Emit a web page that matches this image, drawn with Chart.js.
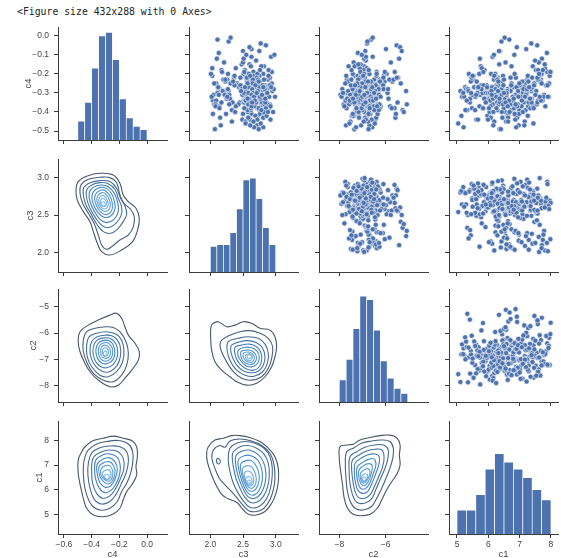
<!DOCTYPE html>
<html>
<head>
<meta charset="utf-8">
<script src="https://cdn.jsdelivr.net/npm/chart.js"></script>
<style>
  html, body { margin: 0; padding: 0; background: #fff; overflow: hidden; }
  body { width: 561px; height: 558px; position: relative; }
  #note { position: absolute; left: 17px; top: 6px; font: 9.8px/12px "DejaVu Sans Mono", monospace; color: #222; white-space: pre; }
  canvas { position: absolute; }
</style>
</head>
<body>
<div id="note">&lt;Figure size 432x288 with 0 Axes&gt;</div>
<script>
// Pair grid: histograms on the diagonal, scatter above, KDE contours below
const varNames = ['c4', 'c3', 'c2', 'c1'];

// observations, one value per row in each column
const c4 = [
  -0.31,-0.27,-0.44,-0.22,-0.36,-0.12,-0.29,-0.33,-0.25,-0.48,
  -0.34,-0.19,-0.28,-0.38,-0.23,-0.30,-0.41,-0.26,-0.05,-0.35,
  -0.32,-0.21,-0.39,-0.27,-0.45,-0.16,-0.30,-0.36,-0.24,-0.33,
  -0.29,-0.40,-0.23,-0.08,-0.34,-0.28,-0.37,-0.20,-0.42,-0.26,
  -0.31,-0.35,-0.18,-0.47,-0.25,-0.30,-0.38,-0.22,-0.14,-0.33,
  -0.27,-0.36,-0.29,-0.43,-0.21,-0.32,-0.24,-0.39,-0.02,-0.31,
  -0.26,-0.34,-0.41,-0.20,-0.29,-0.37,-0.11,-0.33,-0.25,-0.49,
  -0.30,-0.23,-0.35,-0.28,-0.40,-0.17,-0.32,-0.26,-0.38,-0.22,
  -0.34,-0.28,-0.44,-0.31,-0.19,-0.36,-0.24,-0.07,-0.33,-0.27,
  -0.39,-0.30,-0.21,-0.35,-0.46,-0.25,-0.32,-0.15,-0.37,-0.29,
  -0.26,-0.42,-0.31,-0.23,-0.34,-0.28,-0.10,-0.36,-0.30,-0.20,
  -0.33,-0.38,-0.27,-0.47,-0.24,-0.31,-0.18,-0.35,-0.29,-0.04,
  -0.32,-0.25,-0.40,-0.28,-0.36,-0.21,-0.30,-0.43,-0.26,-0.13,
  -0.34,-0.29,-0.37,-0.22,-0.31,-0.45,-0.27,-0.16,-0.33,-0.39,
  -0.24,-0.30,-0.35,-0.28,-0.09,-0.41,-0.32,-0.26,-0.36,-0.20,
  -0.33,-0.48,-0.27,-0.31,-0.23,-0.38,-0.29,-0.17,-0.35,-0.25,
  -0.30,-0.42,-0.28,-0.34,-0.21,-0.32,-0.26,-0.37,-0.06,-0.31,
  -0.35,-0.24,-0.39,-0.29,-0.20,-0.33,-0.44,-0.27,-0.14,-0.32,
  -0.28,-0.36,-0.30,-0.22,-0.40,-0.25,-0.34,-0.31,-0.18,-0.27,
  -0.38,-0.32,-0.12,-0.29,-0.46,-0.23,-0.35,-0.26,-0.30,-0.41,
  -0.27,-0.33,-0.21,-0.36,-0.29,-0.03,-0.31,-0.24,-0.43,-0.28,
  -0.34,-0.19,-0.37,-0.30,-0.26,-0.39,-0.22,-0.32,-0.11,-0.35,
  -0.28,-0.45,-0.31,-0.25,-0.38,-0.20,-0.33,-0.27,-0.36,-0.15,
  -0.30,-0.42,-0.29,-0.34,-0.23,-0.31,-0.37,-0.26,-0.08,-0.32,
  -0.40,-0.27,-0.35,-0.21,-0.30,-0.47,-0.28,-0.33,-0.18,-0.36,
  -0.25,-0.39,-0.31,-0.29,-0.22,-0.34,-0.44,-0.27,-0.01,-0.32,
  -0.37,-0.26,-0.30,-0.41,-0.24,-0.33,-0.28,-0.20,-0.35,-0.29,
  -0.32,-0.38,-0.16,-0.31,-0.27,-0.43,-0.34,-0.23,-0.30,-0.36,
  -0.25,-0.49,-0.29,-0.33,-0.21,-0.37,-0.28,-0.10,-0.32,-0.26,
  -0.35,-0.30,-0.40,-0.24,-0.33,-0.19,-0.31,-0.38,-0.27,-0.45
];
const c3 = [
  2.66,2.78,2.49,2.61,2.91,2.10,2.73,2.55,2.67,2.81,
  2.69,2.94,2.52,2.72,2.26,2.79,2.63,2.47,2.85,2.56,
  2.58,2.89,2.33,2.70,2.54,2.82,2.67,2.42,2.76,2.60,
  2.80,2.57,2.65,2.75,2.04,2.87,2.61,2.51,2.73,2.64,
  2.66,2.83,2.53,2.71,2.31,2.60,2.90,2.46,2.21,2.68,
  2.63,2.78,2.49,2.15,2.69,2.85,2.58,2.62,2.11,2.76,
  2.72,2.60,2.50,2.81,2.28,2.67,2.93,2.55,2.41,2.74,
  2.59,2.88,2.45,2.65,2.77,2.03,2.64,2.84,2.56,2.36,
  2.73,2.15,2.92,2.57,2.66,2.79,2.23,2.63,2.52,2.70,
  2.75,2.62,2.37,2.86,2.54,2.09,2.68,2.48,2.80,2.61,
  2.60,2.69,2.29,2.82,2.51,2.64,2.98,2.43,2.71,2.58,
  2.63,2.84,2.53,2.16,2.72,2.56,2.89,2.65,2.22,2.77,
  2.81,2.62,2.96,2.50,2.06,2.67,2.74,2.59,2.42,2.70,
  2.73,2.55,2.68,2.91,2.05,2.64,2.44,2.78,2.25,2.57,
  2.70,2.87,2.52,2.66,2.13,2.76,2.61,2.46,2.83,2.59,
  2.54,2.67,2.85,2.49,2.20,2.74,2.63,2.39,2.79,2.58,
  2.69,2.82,2.57,2.09,2.75,2.65,2.90,2.14,2.60,2.80,
  2.17,2.64,2.86,2.55,2.72,2.30,2.61,2.78,2.50,2.24,
  2.68,2.83,2.60,2.71,2.38,2.94,2.53,2.66,2.76,2.12,
  2.62,2.90,2.51,2.19,2.77,2.65,2.34,2.73,2.58,2.24,
  2.59,2.74,2.03,2.88,2.66,2.28,2.70,2.56,2.81,2.48,
  2.69,2.52,2.92,2.67,2.37,2.79,2.55,2.02,2.63,2.84,
  2.64,2.33,2.71,2.57,2.85,2.27,2.62,2.75,2.08,2.60,
  2.66,2.86,2.19,2.54,2.73,2.63,2.08,2.80,2.50,2.99,
  2.82,2.53,2.68,2.89,2.11,2.61,2.27,2.77,2.17,2.58,
  2.65,2.78,2.22,2.95,2.56,2.60,2.72,2.12,2.31,2.67,
  2.63,2.91,2.51,2.04,2.74,2.59,2.83,2.01,2.70,2.47,
  2.76,2.14,2.62,2.13,2.81,2.58,2.68,2.23,2.87,2.29,
  2.06,2.07,2.73,2.84,2.61,2.39,2.97,2.55,2.26,2.69,
  2.64,2.71,2.88,2.35,2.57,2.18,2.79,2.52,2.93,2.66
];
const c2 = [
  -6.82,-7.12,-6.45,-6.97,-7.63,-5.42,-6.74,-5.88,-7.27,-6.58,
  -7.05,-6.39,-7.41,-6.91,-6.12,-7.77,-6.66,-6.84,-5.53,-7.18,
  -6.49,-7.33,-5.27,-6.78,-7.52,-6.93,-6.31,-7.09,-5.71,-6.61,
  -7.86,-6.72,-6.27,-6.88,-7.23,-6.54,-6.99,-5.96,-7.46,-6.69,
  -7.14,-5.49,-6.81,-7.71,-6.47,-7.02,-5.62,-6.95,-7.38,-6.59,
  -6.16,-7.57,-6.76,-6.41,-7.21,-6.87,-6.05,-7.29,-6.63,-7.95,
  -6.71,-7.10,-6.35,-6.92,-7.44,-5.81,-6.56,-7.06,-5.35,-7.35,
  -6.64,-7.67,-6.98,-6.19,-7.25,-6.82,-6.43,-7.13,-5.74,-6.90,
  -7.48,-6.53,-6.85,-7.01,-5.61,-7.81,-6.68,-5.99,-7.19,-6.37,
  -6.95,-7.30,-6.08,-6.77,-7.56,-6.46,-6.86,-7.08,-6.22,-7.39,
  -6.60,-7.16,-6.83,-6.50,-7.73,-6.33,-7.00,-6.75,-5.92,-7.42,
  -6.89,-6.26,-7.22,-6.70,-7.61,-6.42,-6.96,-7.11,-5.12,-6.80,
  -7.31,-6.57,-6.92,-7.87,-6.38,-7.04,-6.66,-5.58,-7.26,-6.86,
  -6.52,-7.15,-6.79,-6.10,-7.50,-6.88,-6.45,-7.34,-6.72,-7.03,
  -6.28,-7.64,-6.94,-6.55,-7.20,-5.56,-6.84,-7.40,-6.62,-7.07,
  -6.91,-7.28,-6.32,-6.99,-5.84,-7.69,-6.48,-7.12,-6.73,-6.18,
  -7.36,-6.81,-6.57,-7.17,-6.40,-7.90,-6.64,-7.02,-5.38,-6.95,
  -7.45,-6.87,-6.30,-7.24,-6.70,-7.54,-6.61,-6.97,-5.78,-7.08,
  -6.44,-7.32,-6.78,-7.11,-5.22,-7.74,-6.53,-6.90,-7.47,-6.36,
  -7.05,-6.65,-6.93,-7.58,-6.47,-7.19,-6.83,-6.11,-7.27,-6.74,
  -7.37,-6.58,-6.97,-6.34,-7.62,-6.79,-7.13,-6.25,-6.89,-7.43,
  -6.68,-7.09,-6.51,-7.84,-6.43,-7.00,-5.47,-7.22,-6.85,-7.31,
  -6.09,-6.76,-7.53,-6.62,-7.04,-6.39,-7.66,-6.94,-6.27,-7.18,
  -6.80,-7.39,-6.55,-6.98,-5.66,-7.14,-6.71,-7.50,-5.31,-6.91,
  -7.25,-6.60,-6.84,-7.70,-6.42,-7.06,-6.31,-7.46,-6.73,-6.96,
  -7.02,-6.49,-7.29,-6.67,-5.52,-7.55,-6.86,-7.10,-6.56,-6.99,
  -6.37,-7.20,-6.82,-7.42,-6.64,-7.07,-5.90,-6.93,-7.35,-6.46,
  -7.01,-6.69,-7.60,-6.29,-6.88,-7.15,-6.54,-7.48,-6.80,-5.09,
  -7.23,-6.74,-7.12,-6.41,-6.97,-7.78,-6.63,-7.03,-6.22,-7.32,
  -6.87,-6.50,-7.17,-6.76,-7.41,-6.04,-6.92,-7.26,-6.58,-6.95
];
const c1 = [
  6.41,7.35,5.62,6.88,6.12,7.71,5.94,6.57,7.02,5.21,
  6.33,7.88,6.69,5.48,7.24,6.05,6.93,5.77,7.56,6.28,
  7.93,6.47,5.33,6.81,6.19,7.42,5.86,6.63,7.15,6.02,
  5.11,6.54,7.68,6.37,7.29,5.69,6.96,6.22,5.97,7.84,
  6.48,5.41,7.52,6.16,6.74,7.08,5.83,6.31,7.61,6.59,
  5.26,6.91,7.37,6.08,7.96,5.59,6.44,7.19,6.67,5.74,
  6.26,7.73,6.85,5.38,6.52,7.27,6.13,5.91,7.47,6.36,
  6.95,5.52,7.12,6.61,6.04,7.81,5.16,6.73,7.34,6.23,
  7.58,6.42,5.67,6.87,7.99,6.14,5.44,7.21,6.53,7.05,
  6.29,5.81,7.64,6.46,5.04,7.17,6.78,6.35,7.43,6.01,
  5.95,6.62,7.78,6.18,7.09,5.29,6.83,7.55,6.39,5.71,
  7.31,6.49,5.58,6.97,7.66,6.21,5.88,7.13,6.56,7.37,
  6.11,7.92,6.43,5.35,6.76,7.26,5.65,6.92,6.32,7.49,
  6.06,6.71,7.82,5.47,6.58,7.16,6.27,5.76,7.39,6.99,
  6.45,5.93,7.57,6.17,7.87,6.64,5.23,7.01,6.34,7.70,
  6.15,6.89,5.55,7.23,6.50,7.45,6.03,5.79,6.80,7.94,
  6.38,5.14,7.36,6.65,7.62,6.25,5.85,7.06,6.91,6.44,
  7.29,5.63,6.73,7.51,6.09,5.42,6.86,7.14,6.55,7.76,
  6.20,6.94,5.99,7.40,6.68,7.03,5.31,6.40,7.59,6.12,
  6.82,7.19,5.73,6.60,7.44,6.30,5.91,7.85,6.51,6.98,
  5.66,7.32,6.19,6.77,7.53,6.42,5.49,7.08,6.63,6.24,
  7.68,5.84,6.92,7.22,6.48,5.27,6.71,7.90,6.14,6.37,
  7.12,6.57,5.61,7.47,6.26,6.84,7.35,5.96,6.70,7.80,
  6.05,7.26,5.37,6.79,7.58,6.43,5.72,7.00,6.34,7.64,
  6.16,6.90,7.38,5.53,6.58,7.15,6.23,5.87,7.74,6.47,
  6.99,5.58,7.20,6.31,7.57,6.66,5.99,7.41,6.52,7.04,
  6.07,7.89,5.45,6.84,7.28,6.36,5.78,7.62,6.55,6.95,
  7.17,6.02,6.74,7.50,5.68,6.45,7.07,6.29,5.20,6.87,
  7.70,6.40,6.10,7.33,5.50,6.62,7.24,6.18,6.96,7.46,
  5.92,6.50,7.10,6.32,6.81,7.98,6.11,5.83,7.30,6.63
];

// histogram bins (edges) and counts on the diagonal
const c4Edges = [-0.5, -0.45, -0.4, -0.35, -0.3, -0.25, -0.2, -0.15, -0.1, -0.05, 0];
const c4Counts = [11, 22, 42, 61, 63, 47, 24, 13, 8, 6];
const c3Edges = [2.0, 2.1, 2.2, 2.3, 2.4, 2.5, 2.6, 2.7, 2.8, 2.9, 3.0];
const c3Counts = [15, 16, 16, 23, 37, 54, 55, 43, 26, 16];
const c2Edges = [-8, -7.705, -7.41, -7.115, -6.82, -6.525, -6.23, -5.935, -5.64, -5.345, -5.05];
const c2Counts = [13, 25, 43, 62, 60, 42, 24, 14, 8, 5];
const c1Edges = [5.0, 5.3, 5.6, 5.9, 6.2, 6.5, 6.8, 7.1, 7.4, 7.7, 8.0];
const c1Counts = [14, 14, 23, 38, 47, 42, 38, 33, 26, 20];

// axis limits when the variable is on x / on y, and tick values
const xLimits = [[-0.643, 0.144], [1.674, 3.341], [-8.875, -4.177], [4.745, 8.224]];
const yLimits = [[-0.547, 0.046], [1.744, 3.243], [-8.619, -4.328], [4.222, 8.778]];
const xTicks = [[-0.6, -0.4, -0.2, 0.0], [2.0, 2.5, 3.0], [-8, -6], [5, 6, 7, 8]];
const yTicks = [[-0.5, -0.4, -0.3, -0.2, -0.1, 0.0], [2.0, 2.5, 3.0], [-8, -7, -6, -5], [5, 6, 7, 8]];
const tickDecimals = [1, 1, 0, 0];

// KDE contour rings, outermost first, as flat x,y lists
const kdeC4C3 = [
  [-0.340,3.053, -0.432,3.018, -0.497,2.943, -0.513,2.832, -0.504,2.699, -0.460,2.545, -0.412,2.412, -0.388,2.280, -0.359,2.125, -0.328,2.014, -0.268,1.970, -0.184,2.036, -0.104,2.147, -0.068,2.302, -0.056,2.456, -0.080,2.589, -0.135,2.677, -0.172,2.766, -0.196,2.920, -0.244,3.031],
  [-0.340,3.000, -0.424,2.973, -0.477,2.898, -0.484,2.788, -0.465,2.655, -0.424,2.523, -0.383,2.390, -0.352,2.235, -0.328,2.103, -0.292,2.045, -0.249,2.089, -0.196,2.169, -0.135,2.235, -0.099,2.346, -0.092,2.478, -0.119,2.576, -0.167,2.655, -0.196,2.766, -0.220,2.929, -0.268,2.996],
  [-0.340,2.956, -0.412,2.929, -0.456,2.867, -0.460,2.766, -0.441,2.633, -0.400,2.501, -0.359,2.368, -0.316,2.280, -0.263,2.257, -0.215,2.310, -0.172,2.412, -0.147,2.514, -0.160,2.620, -0.191,2.722, -0.220,2.854, -0.268,2.943],
  [-0.340,2.929, -0.400,2.898, -0.436,2.832, -0.436,2.722, -0.412,2.589, -0.369,2.456, -0.321,2.355, -0.268,2.337, -0.220,2.399, -0.186,2.501, -0.184,2.611, -0.208,2.722, -0.232,2.841, -0.280,2.916],
  [-0.335,2.898, -0.388,2.867, -0.417,2.797, -0.412,2.677, -0.383,2.558, -0.340,2.443, -0.292,2.399, -0.239,2.443, -0.208,2.545, -0.212,2.664, -0.237,2.788, -0.280,2.876],
  [-0.333,2.867, -0.376,2.832, -0.398,2.757, -0.388,2.642, -0.354,2.531, -0.311,2.470, -0.263,2.487, -0.232,2.576, -0.237,2.691, -0.258,2.788, -0.292,2.850],
  [-0.328,2.832, -0.364,2.797, -0.379,2.722, -0.364,2.620, -0.330,2.531, -0.292,2.505, -0.256,2.558, -0.251,2.655, -0.268,2.752, -0.299,2.819],
  [-0.326,2.797, -0.354,2.761, -0.362,2.691, -0.345,2.602, -0.311,2.549, -0.277,2.567, -0.265,2.642, -0.280,2.735, -0.304,2.783],
  [-0.323,2.761, -0.345,2.726, -0.347,2.664, -0.328,2.598, -0.297,2.585, -0.280,2.642, -0.292,2.717, -0.309,2.752],
  [-0.321,2.722, -0.335,2.691, -0.333,2.638, -0.311,2.611, -0.292,2.642, -0.299,2.695],
  [-0.318,2.677, -0.328,2.655, -0.321,2.624, -0.304,2.629, -0.304,2.664]
];
const kdeC4C2 = [
  [-0.220,-5.25, -0.268,-5.32, -0.340,-5.48, -0.424,-5.70, -0.484,-5.95, -0.497,-6.33, -0.484,-6.71, -0.448,-7.15, -0.412,-7.47, -0.352,-7.79, -0.268,-8.04, -0.208,-7.98, -0.160,-7.72, -0.111,-7.41, -0.063,-7.03, -0.056,-6.71, -0.087,-6.39, -0.135,-6.08, -0.160,-5.76, -0.184,-5.44],
  [-0.292,-5.76, -0.376,-5.82, -0.436,-5.95, -0.460,-6.27, -0.460,-6.71, -0.432,-7.15, -0.388,-7.53, -0.316,-7.79, -0.244,-7.85, -0.184,-7.60, -0.147,-7.22, -0.135,-6.77, -0.152,-6.33, -0.196,-5.95, -0.244,-5.79],
  [-0.297,-5.95, -0.364,-6.01, -0.417,-6.14, -0.436,-6.46, -0.432,-6.90, -0.400,-7.28, -0.340,-7.60, -0.280,-7.66, -0.220,-7.47, -0.176,-7.09, -0.167,-6.65, -0.184,-6.27, -0.225,-6.04],
  [-0.297,-6.08, -0.359,-6.14, -0.398,-6.31, -0.412,-6.61, -0.403,-6.96, -0.369,-7.28, -0.316,-7.47, -0.263,-7.45, -0.215,-7.22, -0.191,-6.84, -0.196,-6.46, -0.225,-6.20, -0.256,-6.10],
  [-0.299,-6.18, -0.350,-6.24, -0.381,-6.42, -0.391,-6.71, -0.376,-7.03, -0.340,-7.26, -0.292,-7.32, -0.244,-7.19, -0.215,-6.90, -0.215,-6.56, -0.239,-6.31, -0.268,-6.20],
  [-0.299,-6.27, -0.340,-6.33, -0.364,-6.50, -0.369,-6.75, -0.354,-7.00, -0.323,-7.15, -0.280,-7.15, -0.244,-7.00, -0.232,-6.74, -0.244,-6.46, -0.268,-6.31],
  [-0.299,-6.36, -0.333,-6.42, -0.350,-6.58, -0.350,-6.80, -0.335,-6.98, -0.304,-7.07, -0.268,-7.00, -0.249,-6.81, -0.251,-6.58, -0.273,-6.41],
  [-0.302,-6.46, -0.328,-6.52, -0.335,-6.67, -0.330,-6.86, -0.306,-6.96, -0.275,-6.91, -0.263,-6.75, -0.273,-6.56],
  [-0.302,-6.56, -0.318,-6.61, -0.323,-6.75, -0.311,-6.86, -0.287,-6.85, -0.277,-6.72, -0.287,-6.60],
  [-0.304,-6.69, -0.316,-6.76, -0.306,-6.88, -0.290,-6.82, -0.292,-6.71]
];
const kdeC4C1 = [
  [-0.448,7.74, -0.388,7.99, -0.316,8.08, -0.244,8.17, -0.172,8.08, -0.111,7.99, -0.075,7.74, -0.070,7.34, -0.080,6.94, -0.075,6.60, -0.111,6.20, -0.147,5.93, -0.172,5.60, -0.196,5.26, -0.244,5.03, -0.316,4.92, -0.388,4.99, -0.436,5.26, -0.460,5.66, -0.480,6.13, -0.497,6.67, -0.497,7.21, -0.472,7.54],
  [-0.424,7.61, -0.364,7.85, -0.292,7.95, -0.208,7.99, -0.135,7.85, -0.104,7.54, -0.104,7.07, -0.119,6.67, -0.147,6.27, -0.184,5.93, -0.215,5.53, -0.268,5.26, -0.340,5.19, -0.400,5.39, -0.436,5.80, -0.456,6.33, -0.460,6.94, -0.448,7.34],
  [-0.400,7.48, -0.340,7.70, -0.268,7.77, -0.196,7.74, -0.147,7.54, -0.135,7.14, -0.152,6.67, -0.184,6.27, -0.220,5.86, -0.268,5.53, -0.328,5.43, -0.381,5.62, -0.412,6.07, -0.427,6.60, -0.424,7.07],
  [-0.383,7.34, -0.328,7.54, -0.268,7.61, -0.208,7.54, -0.172,7.27, -0.167,6.87, -0.191,6.47, -0.225,6.07, -0.268,5.76, -0.321,5.66, -0.364,5.86, -0.393,6.27, -0.400,6.74, -0.398,7.07],
  [-0.369,7.21, -0.321,7.41, -0.268,7.45, -0.220,7.34, -0.196,7.07, -0.196,6.70, -0.220,6.29, -0.256,6.00, -0.304,5.89, -0.345,6.07, -0.371,6.43, -0.379,6.83],
  [-0.357,7.07, -0.316,7.25, -0.268,7.29, -0.232,7.14, -0.215,6.83, -0.229,6.47, -0.261,6.17, -0.304,6.11, -0.340,6.29, -0.359,6.63, -0.364,6.87],
  [-0.347,6.94, -0.309,7.11, -0.268,7.13, -0.239,6.94, -0.232,6.67, -0.251,6.36, -0.287,6.24, -0.323,6.38, -0.345,6.63],
  [-0.335,6.80, -0.304,6.97, -0.268,6.97, -0.249,6.78, -0.251,6.51, -0.277,6.35, -0.311,6.44, -0.333,6.60],
  [-0.323,6.67, -0.297,6.80, -0.268,6.78, -0.261,6.56, -0.282,6.43, -0.311,6.51],
  [-0.311,6.54, -0.292,6.63, -0.273,6.54, -0.287,6.40, -0.306,6.43]
];
const kdeC3C2 = [
  [2.046,-5.63, 2.122,-5.57, 2.250,-5.76, 2.377,-5.70, 2.505,-5.57, 2.632,-5.63, 2.759,-5.82, 2.912,-5.89, 2.989,-6.14, 3.014,-6.52, 2.989,-6.90, 2.938,-7.28, 2.836,-7.66, 2.708,-7.91, 2.556,-7.98, 2.403,-7.85, 2.301,-7.66, 2.173,-7.41, 2.071,-7.09, 2.020,-6.65, 2.005,-6.14, 2.010,-5.76],
  [2.173,-6.27, 2.301,-6.08, 2.454,-5.95, 2.607,-5.91, 2.759,-6.01, 2.887,-6.20, 2.953,-6.52, 2.938,-6.96, 2.887,-7.34, 2.785,-7.66, 2.632,-7.79, 2.479,-7.72, 2.352,-7.47, 2.250,-7.09, 2.173,-6.71, 2.148,-6.46],
  [2.275,-6.33, 2.428,-6.20, 2.581,-6.14, 2.734,-6.20, 2.836,-6.42, 2.887,-6.77, 2.872,-7.15, 2.800,-7.47, 2.668,-7.64, 2.530,-7.60, 2.403,-7.41, 2.311,-7.09, 2.260,-6.71],
  [2.326,-6.46, 2.454,-6.33, 2.581,-6.29, 2.708,-6.37, 2.800,-6.58, 2.836,-6.90, 2.810,-7.22, 2.734,-7.45, 2.617,-7.51, 2.505,-7.43, 2.403,-7.22, 2.336,-6.90, 2.311,-6.65],
  [2.377,-6.55, 2.479,-6.46, 2.596,-6.42, 2.708,-6.52, 2.775,-6.75, 2.785,-7.03, 2.749,-7.28, 2.668,-7.41, 2.556,-7.37, 2.454,-7.18, 2.392,-6.93],
  [2.428,-6.65, 2.515,-6.55, 2.617,-6.55, 2.708,-6.67, 2.749,-6.90, 2.724,-7.15, 2.647,-7.28, 2.545,-7.24, 2.464,-7.05, 2.423,-6.84],
  [2.469,-6.71, 2.545,-6.65, 2.632,-6.67, 2.698,-6.84, 2.698,-7.05, 2.632,-7.19, 2.545,-7.15, 2.484,-7.00],
  [2.505,-6.77, 2.566,-6.72, 2.637,-6.77, 2.673,-6.93, 2.647,-7.09, 2.576,-7.10, 2.515,-6.98],
  [2.540,-6.84, 2.596,-6.79, 2.642,-6.88, 2.627,-7.03, 2.571,-7.04, 2.540,-6.94],
  [2.571,-6.84, 2.607,-6.81, 2.627,-6.90, 2.596,-6.98, 2.566,-6.93]
];
const kdeC3C1 = [
  [1.969,7.74, 2.071,8.01, 2.199,8.08, 2.326,8.19, 2.454,8.19, 2.607,8.11, 2.759,7.95, 2.887,7.68, 2.989,7.34, 3.040,6.87, 3.040,6.33, 3.004,5.86, 2.938,5.46, 2.836,5.13, 2.708,4.99, 2.581,5.02, 2.494,5.23, 2.403,5.50, 2.275,5.64, 2.173,5.82, 2.087,6.20, 2.020,6.60, 1.954,7.14, 1.944,7.48],
  [2.046,7.61, 2.148,7.79, 2.224,7.72, 2.301,7.97, 2.454,8.05, 2.632,7.97, 2.785,7.79, 2.912,7.48, 2.974,7.01, 2.989,6.47, 2.963,6.00, 2.912,5.60, 2.821,5.26, 2.708,5.13, 2.596,5.15, 2.505,5.37, 2.413,5.66, 2.326,5.93, 2.224,6.20, 2.138,6.47, 2.071,6.87, 2.025,7.27],
  [2.301,7.68, 2.403,7.88, 2.530,7.95, 2.683,7.88, 2.821,7.68, 2.912,7.34, 2.948,6.87, 2.938,6.33, 2.897,5.86, 2.821,5.50, 2.708,5.29, 2.596,5.31, 2.505,5.56, 2.428,5.86, 2.352,6.27, 2.301,6.74, 2.275,7.21],
  [2.352,7.54, 2.454,7.74, 2.581,7.79, 2.708,7.68, 2.821,7.44, 2.887,7.07, 2.902,6.60, 2.877,6.13, 2.810,5.73, 2.708,5.50, 2.607,5.50, 2.520,5.73, 2.454,6.07, 2.392,6.47, 2.352,6.94, 2.336,7.30],
  [2.392,7.38, 2.494,7.57, 2.607,7.60, 2.724,7.44, 2.810,7.14, 2.851,6.67, 2.831,6.20, 2.770,5.84, 2.683,5.66, 2.596,5.69, 2.530,5.90, 2.464,6.27, 2.413,6.67, 2.387,7.07],
  [2.428,7.21, 2.520,7.38, 2.622,7.38, 2.724,7.21, 2.785,6.85, 2.795,6.40, 2.749,6.00, 2.673,5.80, 2.591,5.84, 2.525,6.09, 2.469,6.47, 2.433,6.87],
  [2.464,7.03, 2.545,7.18, 2.632,7.17, 2.708,6.94, 2.749,6.54, 2.724,6.16, 2.658,5.96, 2.581,6.00, 2.525,6.27, 2.479,6.63],
  [2.494,6.87, 2.566,6.98, 2.637,6.91, 2.693,6.63, 2.698,6.27, 2.642,6.07, 2.576,6.13, 2.525,6.40, 2.494,6.67],
  [2.520,6.67, 2.581,6.76, 2.642,6.63, 2.663,6.33, 2.622,6.16, 2.566,6.23, 2.530,6.47],
  [2.545,6.47, 2.596,6.54, 2.637,6.39, 2.622,6.23, 2.571,6.24, 2.545,6.36],
  [2.581,6.39, 2.612,6.37, 2.617,6.28, 2.586,6.27, 2.571,6.33]
];
// small separate ring on the left of the c3/c1 panel, same level as ring index 2
const kdeC3C1Island = [2.122,7.27, 2.153,7.18, 2.133,7.05, 2.097,7.11, 2.097,7.23];
const kdeC3C1IslandLevel = 2;
const kdeC2C1 = [
  [-7.97,7.74, -7.68,7.81, -7.40,7.84, -7.11,8.01, -6.68,8.11, -6.25,8.19, -5.82,8.21, -5.53,8.11, -5.38,7.81, -5.41,7.41, -5.38,7.01, -5.50,6.67, -5.74,6.33, -5.96,6.00, -6.17,5.60, -6.39,5.23, -6.68,5.02, -7.11,4.96, -7.47,5.06, -7.68,5.33, -7.80,5.73, -7.86,6.20, -7.94,6.74, -8.00,7.27],
  [-7.68,7.54, -7.40,7.68, -7.04,7.88, -6.61,7.97, -6.17,8.01, -5.82,7.95, -5.67,7.68, -5.70,7.27, -5.82,6.87, -5.99,6.47, -6.17,6.07, -6.39,5.66, -6.61,5.33, -6.97,5.19, -7.32,5.26, -7.54,5.56, -7.66,6.00, -7.71,6.47, -7.74,7.01],
  [-7.54,7.34, -7.25,7.54, -6.89,7.72, -6.49,7.81, -6.10,7.81, -5.89,7.61, -5.92,7.21, -6.06,6.80, -6.25,6.40, -6.43,6.00, -6.61,5.64, -6.92,5.46, -7.25,5.50, -7.43,5.80, -7.54,6.27, -7.58,6.80],
  [-7.43,7.21, -7.14,7.41, -6.82,7.57, -6.46,7.64, -6.17,7.61, -6.07,7.34, -6.13,6.94, -6.30,6.54, -6.49,6.13, -6.68,5.80, -6.92,5.66, -7.18,5.70, -7.34,6.00, -7.43,6.47, -7.47,6.87],
  [-7.32,7.07, -7.07,7.27, -6.79,7.41, -6.46,7.45, -6.28,7.34, -6.30,7.01, -6.45,6.60, -6.61,6.23, -6.78,5.93, -6.99,5.86, -7.18,5.96, -7.30,6.27, -7.35,6.67],
  [-7.22,6.94, -6.99,7.11, -6.75,7.23, -6.51,7.25, -6.42,7.03, -6.53,6.67, -6.68,6.29, -6.85,6.07, -7.04,6.04, -7.18,6.23, -7.25,6.60],
  [-7.15,6.80, -6.97,6.97, -6.74,7.06, -6.58,6.98, -6.62,6.67, -6.75,6.33, -6.92,6.17, -7.08,6.27, -7.17,6.54],
  [-7.09,6.67, -6.94,6.80, -6.75,6.85, -6.68,6.67, -6.79,6.40, -6.94,6.27, -7.07,6.40],
  [-7.04,6.56, -6.91,6.64, -6.78,6.60, -6.82,6.40, -6.95,6.33, -7.04,6.43],
  [-6.98,6.50, -6.88,6.52, -6.85,6.42, -6.94,6.36, -6.99,6.42]
];

// page geometry (pixels)
const PANEL_LEFT = [58, 189, 319, 449];
const PANEL_TOP = [27, 159, 289, 421];
const PANEL_W = 109;
const PANEL_H = 113;
const PAD_L = 48, PAD_T = 14, PAD_R = 4, PAD_B = 26;
const Y_TITLE_PAD = [12.6, 15, 17.6, 23.6];

const SPINE = '#3c3c3c';
const TEXT = '#454545';
const BLUE = '#4c72b0';
const FONT = "'Liberation Sans', Arial, sans-serif";
// contour colour ramp: level -> rgb, dark slate outside, light blue at the peak
const KDE_STOPS = [
  [0, [72, 86, 102]],
  [2, [70, 108, 150]],
  [5, [66, 136, 202]],
  [10, [140, 196, 240]]
];

const columns = [c4, c3, c2, c1];
const histEdges = [c4Edges, c3Edges, c2Edges, c1Edges];
const histCounts = [c4Counts, c3Counts, c2Counts, c1Counts];
const countTop = Math.max(...histCounts.flat()) * 1.05;
const kdePanels = {
  '1-0': kdeC4C3,
  '2-0': kdeC4C2,
  '3-0': kdeC4C1,
  '2-1': kdeC3C2,
  '3-1': kdeC3C1,
  '3-2': kdeC2C1
};

document.addEventListener('DOMContentLoaded', () => {
  for (let row = 0; row < 4; row++) {
    for (let col = 0; col < 4; col++) {
      makePanel(row, col);
    }
  }
});

function fmtTick(value, dec) {
  return value.toFixed(dec).replace('-', '\u2212');
}

function xAxis(v, row) {
  const showLabels = row === 3;
  return {
    type: 'linear',
    position: 'bottom',
    min: xLimits[v][0],
    max: xLimits[v][1],
    offset: false,
    afterBuildTicks: (scale) => { scale.ticks = xTicks[v].map((value) => ({ value })); },
    afterFit: (scale) => { scale.height = PAD_B; },
    grid: { offset: false, drawOnChartArea: false, drawTicks: true, tickLength: 4, color: SPINE, lineWidth: 1 },
    border: { display: true, color: SPINE, width: 1 },
    ticks: {
      display: showLabels,
      padding: 2,
      color: TEXT,
      autoSkip: false,
      maxRotation: 0,
      font: { family: FONT, size: 8.5 },
      callback: (value) => fmtTick(value, tickDecimals[v])
    },
    title: {
      display: showLabels,
      text: varNames[v],
      color: TEXT,
      font: { family: FONT, size: 9.5 },
      padding: { top: 0, bottom: 0 }
    }
  };
}

function yAxis(v, col) {
  const showLabels = col === 0;
  return {
    type: 'linear',
    position: 'left',
    min: yLimits[v][0],
    max: yLimits[v][1],
    afterBuildTicks: (scale) => { scale.ticks = yTicks[v].map((value) => ({ value })); },
    afterFit: (scale) => { scale.width = PAD_L; },
    grid: { drawOnChartArea: false, drawTicks: true, tickLength: 4, color: SPINE, lineWidth: 1 },
    border: { display: true, color: SPINE, width: 1 },
    ticks: {
      display: showLabels,
      padding: 5,
      color: TEXT,
      autoSkip: false,
      font: { family: FONT, size: 8.5 },
      callback: (value) => fmtTick(value, tickDecimals[v])
    },
    title: {
      display: showLabels,
      text: varNames[v],
      color: TEXT,
      font: { family: FONT, size: 9.5 },
      padding: { top: Y_TITLE_PAD[v], bottom: 0 }
    }
  };
}

function levelColor(level) {
  let i = 0;
  while (i < KDE_STOPS.length - 2 && level > KDE_STOPS[i + 1][0]) i++;
  const [l0, a] = KDE_STOPS[i];
  const [l1, b] = KDE_STOPS[i + 1];
  const t = Math.max(0, Math.min(1, (level - l0) / (l1 - l0)));
  const rgb = a.map((d, k) => Math.round(d + (b[k] - d) * t));
  return `rgb(${rgb.join(',')})`;
}

// ring -> closed, smooth line: wrap one point on each side and hide the wrap segments
function ringDataset(ring, level) {
  const pts = [];
  for (let i = 0; i < ring.length; i += 2) {
    pts.push({ x: ring[i], y: ring[i + 1] });
  }
  const n = pts.length;
  const data = [pts[n - 1], ...pts, pts[0], pts[1]];
  return {
    data,
    showLine: true,
    pointRadius: 0,
    borderColor: levelColor(level),
    borderWidth: 1.1,
    tension: 0.4,
    fill: false,
    segment: {
      borderColor: (ctx) => (ctx.p0DataIndex === 0 || ctx.p0DataIndex === n + 1) ? 'rgba(0,0,0,0)' : undefined
    }
  };
}

function makePanel(row, col) {
  const canvas = document.createElement('canvas');
  canvas.width = PAD_L + PANEL_W + PAD_R;
  canvas.height = PAD_T + PANEL_H + PAD_B;
  canvas.style.left = (PANEL_LEFT[col] - PAD_L) + 'px';
  canvas.style.top = (PANEL_TOP[row] - PAD_T) + 'px';
  document.body.appendChild(canvas);

  const scales = { x: xAxis(col, row), y: yAxis(row, col) };
  let type = 'scatter';
  let datasets = [];

  if (row === col) {
    type = 'bar';
    const edges = histEdges[col];
    const counts = histCounts[col];
    scales.yc = { type: 'linear', display: false, min: 0, max: countTop };
    datasets = [{
      data: counts.map((n, i) => ({ x: (edges[i] + edges[i + 1]) / 2, y: n })),
      yAxisID: 'yc',
      backgroundColor: BLUE,
      borderColor: '#ffffff',
      borderWidth: 0.7,
      borderSkipped: 'start',
      barPercentage: 1,
      categoryPercentage: 1
    }];
  } else if (row < col) {
    const xs = columns[col];
    const ys = columns[row];
    datasets = [{
      data: xs.map((x, i) => ({ x, y: ys[i] })),
      backgroundColor: BLUE,
      borderColor: '#ffffff',
      borderWidth: 0.6,
      pointRadius: 2.6
    }];
  } else {
    const rings = kdePanels[`${row}-${col}`];
    datasets = rings.map((ring, k) => ringDataset(ring, k));
    if (row === 3 && col === 1) {
      datasets.push(ringDataset(kdeC3C1Island, kdeC3C1IslandLevel));
    }
  }

  new Chart(canvas, {
    type,
    data: { datasets },
    options: {
      responsive: false,
      animation: false,
      devicePixelRatio: 1,
      events: [],
      layout: { autoPadding: false, padding: { left: 0, top: PAD_T, right: PAD_R, bottom: 0 } },
      plugins: { legend: { display: false }, tooltip: { enabled: false } },
      scales
    }
  });
}
</script>
</body>
</html>
